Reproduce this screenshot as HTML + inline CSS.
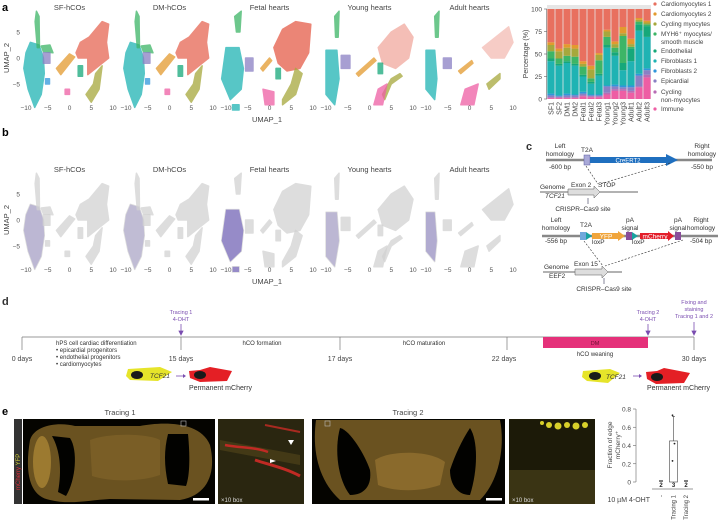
<!DOCTYPE html>
<html><head><meta charset="utf-8"><style>
html,body{margin:0;padding:0;background:#fff}
svg{display:block;font-family:"Liberation Sans",sans-serif}
</style></head><body>
<svg id="fig" width="720" height="526" viewBox="0 0 720 526" xmlns="http://www.w3.org/2000/svg">
<g id="panelA">
<text x="2" y="11" font-size="11" font-weight="bold">a</text>
<text x="9" y="58" font-size="7.5" fill="#444" transform="rotate(-90 9 58)" text-anchor="middle">UMAP_2</text>
<text x="267" y="122" font-size="7.5" fill="#444" text-anchor="middle">UMAP_1</text>
</g>
<g id="panelB">
<text x="2" y="136" font-size="11" font-weight="bold">b</text>
<text x="9" y="220" font-size="7.5" fill="#444" transform="rotate(-90 9 220)" text-anchor="middle">UMAP_2</text>
<text x="267" y="284" font-size="7.5" fill="#444" text-anchor="middle">UMAP_1</text>
</g>
<g id="stack"></g>

<!-- panel c -->
<g font-size="6.5" fill="#333">
<text x="526" y="150" font-size="11" font-weight="bold">c</text>
<line x1="546" y1="160" x2="712" y2="160" stroke="#888" stroke-width="2.5"/>
<text x="560" y="148" text-anchor="middle">Left</text>
<text x="560" y="156" text-anchor="middle">homology</text>
<text x="560" y="169" text-anchor="middle">-600 bp</text>
<text x="587" y="152" text-anchor="middle">T2A</text>
<rect x="584" y="155" width="6" height="10" fill="#a9a9d8" stroke="#5a5aa0" stroke-width="0.5"/>
<polygon points="590,157 666,157 666,154 678,160 666,166 666,163 590,163" fill="#1f6fbf"/>
<text x="628" y="162.5" text-anchor="middle" fill="#fff" font-size="6">CreERT2</text>
<text x="702" y="148" text-anchor="middle">Right</text>
<text x="702" y="156" text-anchor="middle">homology</text>
<text x="702" y="169" text-anchor="middle">-550 bp</text>
<line x1="586" y1="166" x2="598" y2="184" stroke="#333" stroke-width="0.6" stroke-dasharray="2,1.5"/>
<line x1="670" y1="163" x2="600" y2="184" stroke="#333" stroke-width="0.6" stroke-dasharray="2,1.5"/>
<line x1="540" y1="192" x2="638" y2="192" stroke="#333" stroke-width="0.8"/>
<polygon points="568,189 594,189 594,186 600,192 594,198 594,195 568,195" fill="#ddd" stroke="#555" stroke-width="0.5"/>
<text x="540" y="189">Genome</text>
<text x="545" y="198" font-style="italic">TCF21</text>
<text x="571" y="187">Exon 2</text>
<text x="598" y="187">STOP</text>
<line x1="588" y1="198" x2="588" y2="204" stroke="#335" stroke-width="0.6"/>
<text x="583" y="211" text-anchor="middle">CRISPR–Cas9 site</text>

<line x1="542" y1="236" x2="718" y2="236" stroke="#888" stroke-width="2.5"/>
<text x="556" y="222" text-anchor="middle">Left</text>
<text x="556" y="230" text-anchor="middle">homology</text>
<text x="556" y="243" text-anchor="middle">-556 bp</text>
<text x="586" y="227" text-anchor="middle">T2A</text>
<rect x="580" y="232" width="6" height="8" fill="#6fa8dc"/>
<polygon points="586,232 592,236 586,240" fill="#17a2a0"/>
<text x="592" y="244">loxP</text>
<polygon points="592,233 618,233 618,231 625,236 618,241 618,239 592,239" fill="#f0a53c"/>
<text x="606" y="238.5" text-anchor="middle" fill="#fff">YFP</text>
<rect x="626" y="232" width="6" height="8" fill="#8a4d9a"/>
<text x="630" y="222" text-anchor="middle">pA</text>
<text x="630" y="230" text-anchor="middle">signal</text>
<polygon points="632,232 638,236 632,240" fill="#17a2a0"/>
<text x="632" y="244">loxP</text>
<polygon points="640,233 668,233 668,231 674,236 668,241 668,239 640,239" fill="#e31e2a"/>
<text x="655" y="238.5" text-anchor="middle" fill="#fff">mCherry</text>
<rect x="675" y="232" width="6" height="8" fill="#8a4d9a"/>
<text x="678" y="222" text-anchor="middle">pA</text>
<text x="678" y="230" text-anchor="middle">signal</text>
<text x="701" y="222" text-anchor="middle">Right</text>
<text x="701" y="230" text-anchor="middle">homology</text>
<text x="701" y="243" text-anchor="middle">-504 bp</text>
<line x1="584" y1="241" x2="603" y2="266" stroke="#333" stroke-width="0.6" stroke-dasharray="2,1.5"/>
<line x1="683" y1="240" x2="605" y2="266" stroke="#333" stroke-width="0.6" stroke-dasharray="2,1.5"/>
<line x1="543" y1="272" x2="622" y2="272" stroke="#333" stroke-width="0.8"/>
<polygon points="575,269 602,269 602,266 608,272 602,278 602,275 575,275" fill="#ddd" stroke="#555" stroke-width="0.5"/>
<text x="544" y="269">Genome</text>
<text x="549" y="278">EEF2</text>
<text x="574" y="266">Exon 15</text>
<line x1="604" y1="278" x2="604" y2="284" stroke="#335" stroke-width="0.6"/>
<text x="604" y="291" text-anchor="middle">CRISPR–Cas9 site</text>
</g>

<!-- panel d -->
<g font-size="6" fill="#333">
<text x="2" y="305" font-size="11" font-weight="bold">d</text>
<line x1="22" y1="337" x2="694" y2="337" stroke="#777" stroke-width="0.7"/>
<rect x="543" y="337" width="105" height="11" fill="#e5317a"/>
<text x="595" y="345" text-anchor="middle" fill="#6a0f30" font-size="5.5">DM</text>
<g stroke="#777" stroke-width="0.7">
<line x1="22" y1="337" x2="22" y2="350"/><line x1="181" y1="337" x2="181" y2="350"/><line x1="340" y1="337" x2="340" y2="350"/><line x1="507" y1="337" x2="507" y2="350"/><line x1="694" y1="337" x2="694" y2="350"/>
</g>
<g font-size="7" fill="#444" text-anchor="middle">
<text x="22" y="361">0 days</text>
<text x="181" y="361">15 days</text>
<text x="340" y="361">17 days</text>
<text x="504" y="361">22 days</text>
<text x="694" y="361">30 days</text>
</g>
<text x="56" y="345">hPS cell cardiac differentiation</text>
<text x="56" y="352">• epicardial progenitors</text>
<text x="56" y="359">• endothelial progenitors</text>
<text x="56" y="366">• cardiomyocytes</text>
<text x="262" y="345" text-anchor="middle">hCO formation</text>
<text x="424" y="345" text-anchor="middle">hCO maturation</text>
<text x="595" y="356" text-anchor="middle">hCO weaning</text>
<g fill="#7a4db0" text-anchor="middle" font-size="5.5">
<text x="181" y="314">Tracing 1</text><text x="181" y="321">4-OHT</text>
<text x="648" y="314">Tracing 2</text><text x="648" y="321">4-OHT</text>
<text x="694" y="304">Fixing and</text><text x="694" y="311">staining</text><text x="694" y="318">Tracing 1 and 2</text>
</g>
<g stroke="#7a4db0" stroke-width="0.8" fill="#7a4db0">
<line x1="181" y1="324" x2="181" y2="333"/><polygon points="179,331 183,331 181,335"/>
<line x1="648" y1="324" x2="648" y2="333"/><polygon points="646,331 650,331 648,335"/>
<line x1="694" y1="322" x2="694" y2="333"/><polygon points="692,331 696,331 694,335"/>
</g>
<g>
<polygon points="128,369 160,367 172,372 158,381 130,380 126,376" fill="#e6e42a"/>
<ellipse cx="137" cy="375" rx="6" ry="4" fill="#1a1a1a"/>
<text x="150" y="378" font-style="italic" font-size="6.5">TCF21</text>
<line x1="176" y1="376" x2="184" y2="376" stroke="#7a4db0" stroke-width="0.8"/><polygon points="183,374 186,376 183,378" fill="#7a4db0"/>
<polygon points="189,371 200,370 210,367 232,371 227,381 200,382 190,378" fill="#e41f25"/>
<ellipse cx="200" cy="375" rx="6" ry="4" fill="#1a1a1a"/>
<text x="189" y="390" font-size="7">Permanent mCherry</text>
</g>
<g>
<polygon points="583,371 610,369 620,373 608,383 587,381 582,377" fill="#e6e42a"/>
<ellipse cx="595" cy="376" rx="6" ry="4" fill="#1a1a1a"/>
<text x="606" y="379" font-style="italic" font-size="6.5">TCF21</text>
<line x1="633" y1="376" x2="640" y2="376" stroke="#7a4db0" stroke-width="0.8"/><polygon points="639,374 642,376 639,378" fill="#7a4db0"/>
<polygon points="646,372 657,371 664,368 690,373 684,383 656,384 647,379" fill="#e41f25"/>
<ellipse cx="657" cy="377" rx="6" ry="4" fill="#1a1a1a"/>
<text x="647" y="390" font-size="7">Permanent mCherry</text>
</g>
</g>

<!-- panel e -->
<g>
<text x="2" y="415" font-size="11" font-weight="bold">e</text>
<text x="120" y="415" font-size="7.5" fill="#444" text-anchor="middle">Tracing 1</text>
<text x="408" y="415" font-size="7.5" fill="#444" text-anchor="middle">Tracing 2</text>
<rect x="14" y="419" width="8" height="85" fill="#333"/>
<text x="20" y="490" font-size="6" transform="rotate(-90 20 490)"><tspan fill="#e0303a">mCherry</tspan><tspan fill="#d6d23a"> YFP</tspan></text>
<g>
<rect x="23" y="419" width="192" height="85" fill="#050400"/>
<path d="M30,440 C35,424 60,422 75,426 L140,426 C160,422 200,420 210,445 C216,470 210,495 180,500 L110,499 C90,500 70,505 50,500 C28,496 25,470 30,440Z" fill="#6a5220"/>
<ellipse cx="42" cy="462" rx="9" ry="26" fill="#9c7a30"/>
<path d="M52,436 L70,438 C78,450 76,480 66,496 L58,492 C62,470 60,450 52,436Z" fill="#020200"/>
<path d="M168,434 L188,434 C190,455 190,475 186,486 L168,484 C164,465 164,450 168,434Z" fill="#020200"/>
<path d="M90,440 C110,432 150,434 160,440 L160,475 C140,482 110,482 92,476Z" fill="#7a5e26"/>
<rect x="181" y="421" width="5" height="5" fill="none" stroke="#bbb" stroke-width="0.6"/>
<rect x="193" y="498" width="16" height="2.5" fill="#fff"/>
</g>
<g>
<rect x="218" y="419" width="86" height="85" fill="#2a2610"/>
<path d="M220,440 L300,455 L300,465 L220,450Z" fill="#4a3e18" opacity="0.8"/>
<path d="M225,445 C240,448 255,447 268,452" stroke="#c02a24" stroke-width="2.5" fill="none"/>
<path d="M255,460 C270,465 285,468 300,476" stroke="#c02a24" stroke-width="3" fill="none"/>
<path d="M265,425 C280,428 290,430 300,432" stroke="#a82a20" stroke-width="2" fill="none"/>
<polygon points="288,440 294,440 291,445" fill="#fff"/>
<polygon points="270,459 276,461 270,463" fill="#fff"/>
<text x="221" y="502" font-size="6" fill="#ddd">×10 box</text>
</g>
<g>
<rect x="312" y="419" width="193" height="85" fill="#050400"/>
<path d="M316,420 L500,420 C505,445 500,480 480,500 L340,500 C318,480 312,450 316,420Z" fill="#6a5220"/>
<path d="M340,428 C350,430 365,455 370,470 C372,485 365,495 350,495 C338,480 334,450 340,428Z" fill="#020200"/>
<path d="M470,428 C478,440 478,470 470,495 C458,495 450,485 450,470 C455,455 462,440 470,428Z" fill="#020200"/>
<path d="M375,460 C390,450 430,450 445,462 L440,485 C420,492 395,492 378,485Z" fill="#8a6a2c"/>
<rect x="325" y="421" width="5" height="5" fill="none" stroke="#bbb" stroke-width="0.6"/>
<rect x="486" y="498" width="16" height="2.5" fill="#fff"/>
</g>
<g>
<rect x="509" y="419" width="86" height="85" fill="#1c1a08"/>
<rect x="509" y="470" width="86" height="34" fill="#3a3414"/>
<g fill="#d8d02a"><circle cx="549" cy="425" r="3"/><circle cx="558" cy="426" r="3.5"/><circle cx="567" cy="425" r="3"/><circle cx="576" cy="426" r="3.5"/><circle cx="585" cy="425" r="3"/><circle cx="542" cy="423" r="2"/></g>
<text x="512" y="502" font-size="6" fill="#ddd">×10 box</text>
</g>
</g>
<g id="ebar"></g>
</svg>
<script>
var NS="http://www.w3.org/2000/svg";
function mk(tag,attrs,parent,txt){var e=document.createElementNS(NS,tag);for(var k in attrs)e.setAttribute(k,attrs[k]);if(txt!==undefined)e.textContent=txt;parent.appendChild(e);return e;}

/* ---------- UMAP panels (a, b) ---------- */
var umapTitles=["SF-hCOs","DM-hCOs","Fetal hearts","Young hearts","Adult hearts"];
var umapXTicks=[-10,-5,0,5,10];
var umapYTicks=[5,0,-5];
var COL={cm1:"#e8705f",cm2:"#e39a2e",cyc:"#a6a83c",myh:"#3db566",endo:"#16a87a",fib1:"#1fb3b3",fib2:"#3096db",epi:"#8a80c4",cnm:"#b86cb5",imm:"#ee5ea4"};
var shapesHCO=[["fib1",[[-9,3],[-7,2.5],[-6,0],[-5.8,-3],[-6.5,-7],[-8,-9.5],[-9.5,-6],[-10.5,-2],[-10,1]]],
["myh",[[-7.6,9],[-7,8],[-6.9,2],[-7.4,2],[-7.9,7]]],["myh",[[-6.5,2.3],[-4.5,2.5],[-3.8,1],[-6,1.2]]],
["epi",[[-6,1],[-4.5,1],[-4.5,-1],[-6,-1]]],["fib2",[[-5.5,-4],[-4.6,-4],[-4.6,-5],[-5.5,-5]]],
["cm2",[[-3,-2],[0,0.8],[1.2,0.2],[-2,-3.2]]],["endo",[[2,-1.5],[3,-1.5],[3,-3.5],[2,-3.5]]],
["cm1",[[1.5,1],[2.5,3],[4.5,4],[7.5,7],[9,6.5],[8.5,3],[9,0],[6,-2],[4.2,-3.2],[4.2,0],[2,0]]],
["cyc",[[6,-3],[7.5,-1.5],[6.8,-6],[5,-8.5],[3.8,-7],[5.5,-5]]],["imm",[[-1,-6],[0,-6],[0,-7],[-1,-7]]]];
var shapesFetal=[["fib1",[[-10,2],[-7,2],[-6,-2],[-6.5,-6],[-9,-8],[-11,-4]]],["myh",[[-8,8],[-6.5,9],[-6.8,5],[-7.6,5]]],
["epi",[[-5.5,0],[-3.8,0],[-3.8,-2.5],[-5.5,-2.5]]],["cm2",[[-2,-2],[0,0],[0.5,-0.5],[-1.5,-2.5]]],
["cm1",[[1,2],[3,5.5],[6,7],[9.5,6.5],[9,1],[7,-2],[4,-2.5],[2,-1]]],["cyc",[[6,-2],[7.5,-3],[6,-7],[3,-9],[3,-8],[5,-5]]],
["endo",[[1.5,-2],[2.5,-2],[2.5,-4],[1.5,-4]]],["imm",[[-1.5,-6],[1,-6.5],[1,-9],[-1,-9]]],["fib1",[[-8.5,-9],[-7,-9],[-7,-10],[-8.5,-10]]]];
var shapesYoung=[["fib1",[[-10,1.5],[-7.5,1.5],[-7,-4],[-8,-9],[-10,-7]]],["myh",[[-8,8],[-7,9],[-7.2,4],[-7.8,4]]],
["epi",[[-6.5,0.5],[-4.5,0.5],[-4.5,-2],[-6.5,-2]]],["cm2",[[-3,-3],[1,0],[1.5,-0.5],[-2.5,-3.5]]],
["cm1",[[2,2],[5,5],[8,6.5],[10,4],[9,0],[6,-2],[3,-1]]],["cyc",[[3,-7],[5,-4],[7,-3],[7.5,-3.5],[5,-5],[3.5,-8]]],
["imm",[[2,-6],[4,-5],[3,-9],[1,-9]]],["endo",[[2,-1],[3,-1],[3,-3],[2,-3]]]];
var shapesAdult=[["fib1",[[-10,1.5],[-8,1.5],[-7.5,-4],[-8,-8],[-10,-6]]],["myh",[[-8,8],[-7,9],[-7.2,4],[-7.8,4]]],
["epi",[[-6,0],[-4.2,0],[-4.2,-2],[-6,-2]]],["cm2",[[-2.5,-2.5],[0.5,-0.5],[0.8,-1],[-2,-3]]],
["cm1",[[3,2],[6,4],[9,6],[10,3],[8,0],[5,0]]],["imm",[[-1,-6],[2,-5],[1,-9],[-2,-9]]],["cyc",[[4,-5],[7,-3],[7,-4],[4.5,-6]]]];
var panelShapes=[shapesHCO,shapesHCO,shapesFetal,shapesYoung,shapesAdult];
var cmOpacity=[0.8,0.8,0.85,0.45,0.35];
var purpleOpacity=[0.35,0.3,0.75,0.35,0.45];

function drawUmap(parentId,yShift,gray){
  var par=document.getElementById(parentId);
  for(var i=0;i<5;i++){
    var x0=26+i*100;
    var X=function(u){return x0+(u+10)*4.35;};
    var Y=function(v){return 58+yShift-v*5.2;};
    var g=mk("g",{},par);
    
    
    var t=mk("text",{x:X(0),y:10+yShift,"font-size":7.5,fill:"#444","text-anchor":"middle"},g,umapTitles[i]);
    
    
    panelShapes[i].forEach(function(s){
      var pts=s[1].map(function(p){return X(p[0])+","+Y(p[1]);}).join(" ");
      var fill=gray?"#d2d2d2":COL[s[0]];
      var op=s[0]==="cm1"&&!gray?cmOpacity[i]:0.75;
      var p=mk("polygon",{points:pts,fill:fill,opacity:op,stroke:fill,"stroke-width":1.5,"stroke-linejoin":"round"},g);
      
      
      if(gray&&s[0]==="fib1"){
        var q=mk("polygon",{points:pts,fill:"#7d6fc0",opacity:purpleOpacity[i]},g);
        
        
      }
    });
    umapXTicks.forEach(function(v){mk("text",{x:X(v),y:110+yShift,"font-size":6.5,fill:"#555","text-anchor":"middle"},g,v<0?"\u2212"+(-v):String(v));});
    if(i===0){umapYTicks.forEach(function(v){mk("text",{x:20,y:Y(v)+2.5,"font-size":6.5,fill:"#555","text-anchor":"end"},g,v<0?"\u2212"+(-v):String(v));});}
  }
}
drawUmap("panelA",0,false);
drawUmap("panelB",162,true);

/* ---------- stacked composition bar chart ---------- */
var samples=["SF1","SF2","DM1","DM2","Fetal1","Fetal2","Fetal3","Young1","Young2","Young3","Adult1","Adult2","Adult3"];
var cellTypes=["Immune","Cycling non-myocytes","Epicardial","Fibroblasts 2","Fibroblasts 1","Endothelial","MYH6+ myocytes/smooth muscle","Cycling myocytes","Cardiomyocytes 2","Cardiomyocytes 1"];
var typeColors=["#ee5ea4","#b86cb5","#8a80c4","#3096db","#1fb3b3","#16a87a","#3db566","#a6a83c","#e39a2e","#e8705f"];
var immune=[1,1,1,1,3,2,2,5,9,9,7,13,24];
var cycNonMyo=[1,1,1,1,1,1,1,2,2,2,2,1,3];
var epicardial=[2,1,2,2,2,1,1,7,3,2,4,12,5];
var fibro2=[2,1,2,1,2,1,1,1,2,2,2,2,2];
var fibro1=[36,33,34,32,17,12,21,42,32,17,27,48,35];
var endothelial=[3,2,2,2,2,2,2,3,4,8,14,7,12];
var myh6=[8,6,6,8,9,4,15,9,5,30,2,3,2];
var cycMyo=[7,8,9,9,3,10,6,6,4,3,3,2,2];
var cm2=[3,3,4,4,3,4,2,2,3,7,6,2,2];
var cm1=[37,44,39,40,58,63,49,23,36,20,33,10,13];
var series=[immune,cycNonMyo,epicardial,fibro2,fibro1,endothelial,myh6,cycMyo,cm2,cm1];
var pctTicks=[0,25,50,75,100];
(function(){
  var g=document.getElementById("stack");
  var L=547,R=651,T=9,B=99;
  var yS=function(v){return B-(v/100)*(B-T);};
  var bw=(R-L)/samples.length;
  var xS=function(i){return L+i*bw;};
  mk("rect",{x:L,y:T-4,width:R-L,height:B-T+4,fill:"#e6e6e6"},g);
  samples.forEach(function(s,i){
    var acc=0;
    series.forEach(function(arr,k){
      var v=arr[i];
      var r=mk("rect",{x:xS(i)+0.4,y:yS(acc+v),width:bw-0.8,height:yS(acc)-yS(acc+v),fill:typeColors[k]},g);
      
      
      acc+=v;
    });
    var lab=mk("text",{x:xS(i)+bw/2+2.5,y:B+3,"font-size":7,fill:"#444","text-anchor":"end",transform:"rotate(-90 "+(xS(i)+bw/2+2.5)+" "+(B+3)+")"},g,s);
    
    
  });
  pctTicks.forEach(function(v){
    mk("line",{x1:L-3,x2:L,y1:yS(v),y2:yS(v),stroke:"#666","stroke-width":0.6},g);
    mk("text",{x:L-5,y:yS(v)+2.5,"font-size":6.5,fill:"#444","text-anchor":"end"},g,String(v));
  });
  mk("line",{x1:L-0.5,x2:L-0.5,y1:T,y2:B,stroke:"#666","stroke-width":0.6},g);
  var yt=mk("text",{x:528,y:54,"font-size":7,fill:"#444","text-anchor":"middle",transform:"rotate(-90 528 54)"},g,"Percentage (%)");
  
  
  var legY=[6,16,26,36,53,63,73,83,94,111];
  var legLines=[["Cardiomyocytes 1"],["Cardiomyocytes 2"],["Cycling myocytes"],["MYH6\u207A myocytes/","smooth muscle"],["Endothelial"],["Fibroblasts 1"],["Fibroblasts 2"],["Epicardial"],["Cycling","non-myocytes"],["Immune"]];
  for(var j=0;j<10;j++){
    var k=9-j;
    var lg=mk("g",{},g);
    
    
    mk("circle",{cx:655,cy:legY[j]-2,r:1.6,fill:typeColors[k]},lg);
    legLines[j].forEach(function(l,n){mk("text",{x:661,y:legY[j]+n*8,"font-size":6.3,fill:"#444"},lg,l);});
  }
})();

/* ---------- fraction bar chart (e) ---------- */
var conditions=["-","Tracing 1","Tracing 2"];
var nLabels=["2","3","2"];
var fracMean=[0,0.45,0];
var fracPoints=[[0,0],[0.22,0.41,0.72],[0,0]];
var fracErrHi=[0,0.72,0];
var fracTicks=[0,0.2,0.4,0.6,0.8];
(function(){
  var g=document.getElementById("ebar");
  var B=482,T=409,L=636;
  var yS=function(v){return B-(v/0.8)*(B-T);};
  var xS=function(i){return 661+i*12.5;};
  fracTicks.forEach(function(v){
    mk("line",{x1:L-3,x2:L,y1:yS(v),y2:yS(v),stroke:"#666","stroke-width":0.6},g);
    mk("text",{x:L-5,y:yS(v)+2.5,"font-size":6.5,fill:"#444","text-anchor":"end"},g,v===0?"0":v.toFixed(1));
  });
  mk("line",{x1:L,x2:L,y1:T,y2:B,stroke:"#666","stroke-width":0.6},g);
  mk("line",{x1:652,x2:693,y1:B+7,y2:B+7,stroke:"#333","stroke-width":0.6},g);
  conditions.forEach(function(c,i){
    var x=xS(i);
    if(fracMean[i]>0){
      var r=mk("rect",{x:x-4,y:yS(fracMean[i]),width:8,height:B-yS(fracMean[i]),fill:"#fff",stroke:"#444","stroke-width":0.6},g);
      
      
      mk("line",{x1:x,x2:x,y1:yS(fracErrHi[i]),y2:yS(fracMean[i]),stroke:"#444","stroke-width":0.6},g);
      mk("line",{x1:x-1.5,x2:x+1.5,y1:yS(fracErrHi[i]),y2:yS(fracErrHi[i]),stroke:"#444","stroke-width":0.6},g);
    }
    fracPoints[i].forEach(function(v,n){
      var p=mk("circle",{cx:x+(n%2?1:-1),cy:yS(v)-1,r:0.9,fill:"#222"},g);
      
      
    });
    mk("text",{x:x,y:B+5,"font-size":6,"font-weight":"bold",fill:"#222","text-anchor":"middle"},g,nLabels[i]);
    var tl=mk("text",{x:x+2,y:B+13,"font-size":6,fill:"#444","text-anchor":"end",transform:"rotate(-90 "+(x+2)+" "+(B+13)+")"},g,c);
    
    
  });
  mk("text",{x:650,y:502,"font-size":7,fill:"#444","text-anchor":"end"},g,"10 \u00B5M 4-OHT");
  var yt=mk("text",{x:612,y:445,"font-size":6.5,fill:"#444","text-anchor":"middle",transform:"rotate(-90 612 445)"},g,"Fraction of edge");
  
  
  mk("text",{x:620,y:445,"font-size":6.5,fill:"#444","text-anchor":"middle",transform:"rotate(-90 620 445)"},g,"mCherry\u207A");
})();
</script>
</body></html>
